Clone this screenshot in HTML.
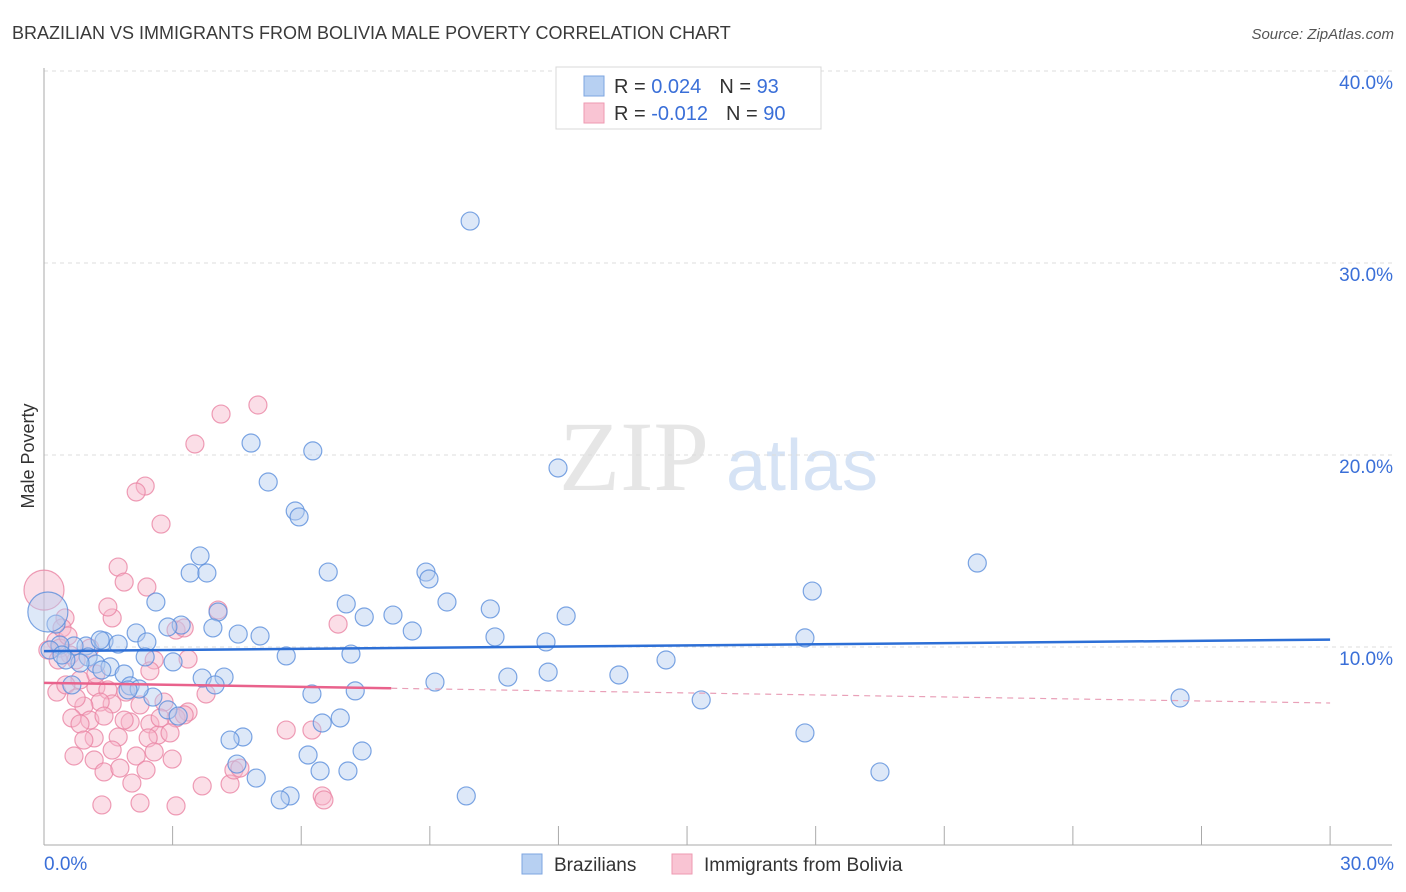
<!DOCTYPE html>
<html><head><meta charset="utf-8">
<style>
body{margin:0;background:#fff;font-family:"Liberation Sans",sans-serif;}
svg{display:block}
</style></head>
<body>
<svg id="chart" width="1406" height="892">
<text x="12" y="39" font-size="18" fill="#3a3a3a">BRAZILIAN VS IMMIGRANTS FROM BOLIVIA MALE POVERTY CORRELATION CHART</text>
<text x="1394" y="39" font-size="15" fill="#555" font-style="italic" text-anchor="end">Source: ZipAtlas.com</text>
<text x="634" y="490" font-size="100" font-family="Liberation Serif,serif" fill="#e6e6e6" text-anchor="middle">ZIP</text>
<text x="802" y="490" font-size="72" fill="#d6e3f5" text-anchor="middle">atlas</text>
<g id="grid"></g>
<g id="axes"></g>
<g id="marks"></g>
<text transform="translate(34,456) rotate(-90)" font-size="18" fill="#333" text-anchor="middle">Male Poverty</text>
<g>
<rect x="556" y="67" width="265" height="62" fill="#fff" stroke="#d8d8d8"/>
<rect x="584" y="76" width="20" height="20" fill="#b7d0f2" stroke="#7ea6e0"/>
<rect x="584" y="103" width="20" height="20" fill="#f9c4d3" stroke="#ee9ab2"/>
<text x="614" y="93" font-size="20" fill="#333">R = <tspan fill="#3a6fd8"> 0.024</tspan><tspan dx="18">N = </tspan><tspan fill="#3a6fd8">93</tspan></text>
<text x="614" y="120" font-size="20" fill="#333">R = <tspan fill="#3a6fd8">-0.012</tspan><tspan dx="18">N = </tspan><tspan fill="#3a6fd8">90</tspan></text>
</g>
<g>
<rect x="522" y="854" width="20" height="20" fill="#b7d0f2" stroke="#7ea6e0"/>
<text x="554" y="871" font-size="19" fill="#333">Brazilians</text>
<rect x="672" y="854" width="20" height="20" fill="#f9c4d3" stroke="#ee9ab2"/>
<text x="704" y="871" font-size="19" fill="#333">Immigrants from Bolivia</text>
</g>
</svg>
<script>
const xTicks=[0,3,6,9,12,15,18,21,24,27,30];
const yTicks=[10,20,30,40];
const blueX=[9.94,4.83,6.27,11.99,5.23,5.86,5.95,21.77,3.64,3.41,3.80,6.63,8.91,8.98,17.92,2.61,7.05,9.40,10.41,4.06,12.18,7.47,8.14,3.20,2.89,3.94,4.53,5.04,2.15,8.59,10.52,17.75,11.71,2.40,1.40,1.73,0.98,0.70,0.37,0.14,1.03,5.65,7.16,2.36,14.51,1.21,1.54,1.35,0.84,0.51,1.87,11.76,13.41,3.01,3.69,4.20,10.82,2.01,3.99,9.12,7.26,6.25,2.54,15.33,26.50,2.89,3.13,6.91,6.49,17.75,4.64,4.34,7.42,6.16,4.50,19.50,7.09,6.44,4.95,5.74,5.51,9.85,0.28,0.65,2.22,1.31,0.42,1.96,0.09];
const blueY=[32.6,21.04,20.63,19.74,19.01,17.5,17.19,14.79,15.16,14.27,14.27,14.32,14.32,13.96,13.33,12.76,12.66,12.76,12.40,12.24,12.03,11.98,12.08,11.56,11.46,11.41,11.09,10.99,11.15,11.25,10.94,10.89,10.68,10.68,10.73,10.57,10.47,10.47,10.52,10.26,9.90,9.95,10.05,9.90,9.74,9.53,9.38,9.22,9.58,9.74,9.01,9.11,8.96,9.64,8.80,8.85,8.85,8.39,8.44,8.59,8.13,7.97,7.81,7.66,7.76,7.14,6.82,6.72,6.46,5.94,5.73,5.57,5.0,4.79,4.32,3.91,3.96,3.96,3.59,2.66,2.45,2.66,11.61,8.44,8.23,10.78,10.0,8.18,12.24];
const pinkX=[4.99,4.13,3.52,2.36,2.15,2.73,1.73,1.87,2.40,4.06,1.59,1.49,0.49,6.86,3.08,3.27,0.28,0.09,0.37,0.61,0.75,2.57,3.36,2.47,1.21,1.49,0.84,0.30,1.91,2.80,3.36,2.24,1.59,1.31,0.93,0.65,1.07,1.40,2.01,2.47,0.84,1.17,1.73,2.66,3.78,3.08,2.15,1.59,0.70,1.17,1.40,1.77,2.38,5.65,6.25,2.05,2.99,3.69,4.34,4.43,6.49,6.53,1.35,2.24,3.08,0.51,4.57,2.71,1.87,0.93,0.42,0.56,1.07,0.33,3.27,1.21,2.43,2.94,0.75,2.57,0];
const pinkY=[23.02,22.55,20.99,18.80,18.49,16.82,14.58,13.80,13.54,12.34,11.93,12.5,11.93,11.61,11.30,11.41,10.73,10.26,10.36,10.0,9.74,9.74,9.79,9.17,8.33,8.18,8.70,8.07,8.07,7.55,7.03,7.40,7.45,7.55,7.34,6.72,6.61,6.82,6.51,6.41,6.41,5.68,5.73,5.83,7.97,6.72,4.74,5.05,4.74,4.53,3.91,4.11,4.01,6.09,6.09,3.33,4.58,3.18,3.28,4.01,2.66,2.45,2.19,2.29,2.14,8.44,4.11,6.72,6.61,5.57,11.41,10.99,10.36,9.74,6.88,9.01,5.68,5.94,7.76,4.95,13.38];
const blueTrend=[10.2,10.8];
const pinkTrend=[8.55,7.5];
const pinkSolidEnd=8.1;
const X=v=>44+v*42.87, Y=v=>847-v*19.2;
const NS="http://www.w3.org/2000/svg";
function mk(tag,attrs,parent){const e=document.createElementNS(NS,tag);for(const k in attrs)e.setAttribute(k,attrs[k]);parent.appendChild(e);return e;}
const grid=document.getElementById('grid'),axes=document.getElementById('axes'),marks=document.getElementById('marks');
yTicks.forEach(t=>{
 const l=mk('line',{x1:44,x2:1392,y1:Y(t)-8,y2:Y(t)-8,stroke:'#dcdcdc','stroke-dasharray':'4,4'},grid);
 
 
 const tx=mk('text',{x:1393,y:Y(t)+10,'font-size':19,fill:'#3a6fd8','text-anchor':'end'},grid);
 tx.textContent=t.toFixed(1)+'%';
 
 
});
const ya=mk('line',{x1:44,x2:44,y1:68,y2:845,stroke:'#aaa'},axes);


const xa=mk('line',{x1:44,x2:1392,y1:845,y2:845,stroke:'#aaa'},axes);


xTicks.forEach(t=>{
 const l=mk('line',{x1:X(t),x2:X(t),y1:826,y2:845,stroke:'#aaa'},axes);
 
 
});
[[0,'start'],[30,'end']].forEach(([t,a])=>{
 const tx=mk('text',{x:t===0?44:1394,y:870,'font-size':19,fill:'#3a6fd8','text-anchor':a},axes);
 tx.textContent=t.toFixed(1)+'%';
 
 
});
function dots(xs,ys,fill,stroke,name){
 xs.forEach((x,i)=>{
  const big=(i===xs.length-1);
  const c=mk('circle',{cx:X(x),cy:Y(ys[i]),r:big?20:9,fill:fill,'fill-opacity':0.45,stroke:stroke,'stroke-width':1.2,'stroke-opacity':0.8},marks);
  
  
 });
}
dots(pinkX,pinkY,'#f7b6c9','#ea84a4','bolivia-point');
dots(blueX,blueY,'#b3cdf0','#5b8fdc','brazilian-point');
const bt=mk('line',{x1:X(0),x2:X(30),y1:Y(blueTrend[0]),y2:Y(blueTrend[1]),stroke:'#2d6fd6','stroke-width':2.5},marks);


const pyAt=x=>pinkTrend[0]+(pinkTrend[1]-pinkTrend[0])*x/30;
const ps=mk('line',{x1:X(0),x2:X(pinkSolidEnd),y1:Y(pyAt(0)),y2:Y(pyAt(pinkSolidEnd)),stroke:'#e9628c','stroke-width':2.5},marks);


const pd=mk('line',{x1:X(pinkSolidEnd),x2:X(30),y1:Y(pyAt(pinkSolidEnd)),y2:Y(pyAt(30)),stroke:'#e9a0b8','stroke-width':1.2,'stroke-dasharray':'6,5'},marks);


</script>
</body></html>
